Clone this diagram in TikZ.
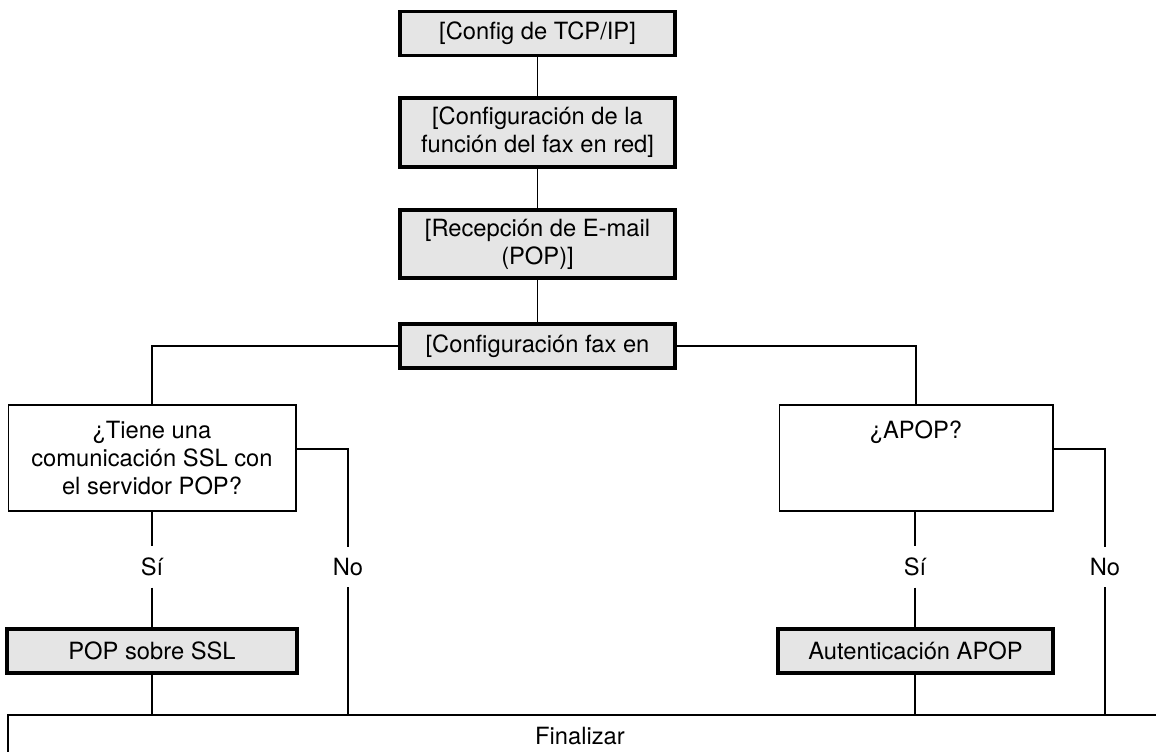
\documentclass[tikz,border=0pt]{standalone}
\usepackage{fontspec}
\setmainfont{TeX Gyre Heros}
\begin{document}
\begin{tikzpicture}[x=0.02cm, y=-0.02cm, line width=0.6pt,
        every node/.style={font=\fontsize{13.5}{15.9}\selectfont, align=center, inner sep=0pt},
        graybox/.style={draw, line width=1.8pt, fill=black!10, minimum width=5.5cm, minimum height=0.88cm},
        askbox/.style={draw, line width=0.6pt, minimum height=2.12cm},
        answer/.style={inner sep=0.22cm}]
        \useasboundingbox (0,0) rectangle (1156,751);
        \node[graybox] (tcpip) at (537.5,33.5) {[Config de TCP/IP]};
        \node[graybox, minimum height=1.38cm] (faxred) at (537.5,132.5) {[Configuración de la\\función del fax en red]};
        \node[graybox, minimum height=1.36cm] (pop) at (537.5,244) {[Recepción de E-mail\\(POP)]};
        \node[graybox] (faxcfg) at (537.5,346) {[Configuración fax en};
        \node[askbox, minimum width=5.76cm] (ssl) at (152,458) {¿Tiene una\\comunicación SSL con\\el servidor POP?};
        \node[askbox, minimum width=5.48cm] (apop) at (916,458) {¿APOP?\\\phantom{X}\\\phantom{X}};
        \node[answer] (si1) at (152,567) {Sí};
        \node[answer] (no1) at (348,567) {No};
        \node[answer] (si2) at (915,567) {Sí};
        \node[answer] (no2) at (1105,567) {No};
        \node[graybox, minimum width=5.8cm] (popssl) at (152,651) {POP sobre SSL};
        \node[graybox] (apopauth) at (915.5,651) {Autenticación APOP};
        \coordinate (finB) at (8,770);
        \coordinate (finL) at (8,715);
        \coordinate (finR) at (1170,715);
        \node (fin) at (580,736) {Finalizar};
        \draw (finB) -- (finL) -- (finR);
        \draw (tcpip) -- (faxred);
        \draw (faxred) -- (pop);
        \draw (pop) -- (faxcfg);
        \draw (faxcfg.west) -| (ssl.north);
        \draw (faxcfg.east) -| (apop.north);
        \draw (ssl) -- (si1);
        \draw (si1) -- (popssl);
        \draw (popssl) -- (popssl |- finL);
        \draw ([yshift=0.18cm]ssl.east) -| (no1.north);
        \draw (no1) -- (no1 |- finL);
        \draw (apop.south -| si2) -- (si2);
        \draw (si2) -- (apopauth.north -| si2);
        \draw (apopauth.south -| si2) -- (si2 |- finL);
        \draw ([yshift=0.18cm]apop.east) -| (no2.north);
        \draw (no2) -- (no2 |- finL);
\end{tikzpicture}
\end{document}
